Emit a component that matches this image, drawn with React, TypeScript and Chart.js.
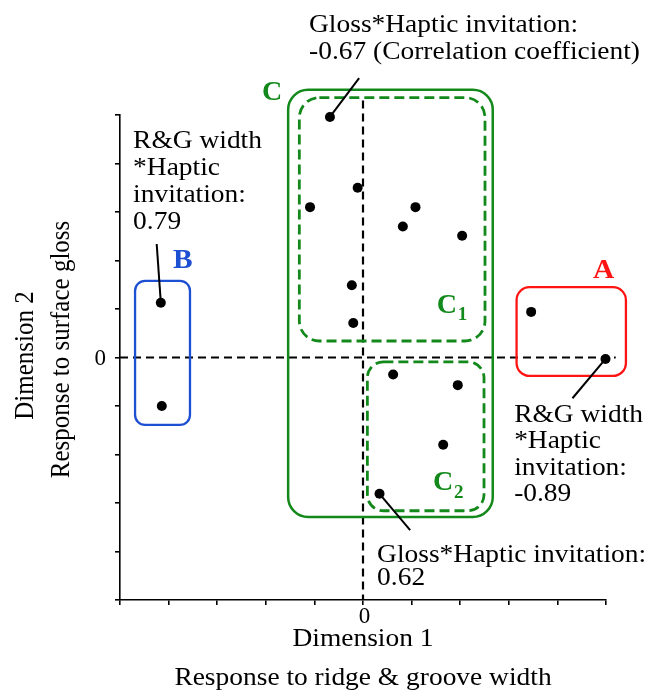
import React, { useEffect, useRef } from 'react';
import { Chart, registerables } from 'chart.js';

Chart.register(...registerables);

// Two-dimensional map of the samples (Dimension 1 vs Dimension 2)
const c1X = [-0.68, -0.11, -1.09, 1.08, 0.82, 2.04, -0.23, -0.2];
const c1Y = [4.96, 3.5, 3.1, 3.1, 2.7, 2.51, 1.49, 0.71];
const c2X = [0.62, 1.95, 1.65, 0.34];
const c2Y = [-0.35, -0.57, -1.8, -2.81];
const bX = [-4.16, -4.14];
const bY = [1.13, -1.0];
const aX = [3.46, 4.99];
const aY = [0.94, -0.03];

const axisMin = -5;
const axisMax = 5;
const zeroTickLabel = '0';

const xTitle = ['Dimension 1', 'Response to ridge & groove width'];
const yTitle = ['Dimension 2', 'Response to surface gloss'];

// Correlation notes
const noteTop = ['Gloss*Haptic invitation:', '-0.67 (Correlation coefficient)'];
const noteB = ['R&G width', '*Haptic', 'invitation:', '0.79'];
const noteA = ['R&G width', '*Haptic', 'invitation:', '-0.89'];
const noteBottom = ['Gloss*Haptic invitation:', '0.62'];

const GREEN = '#12891a';
const BLUE = '#1d4fd2';
const RED = '#ff1414';
const SERIF = '"Liberation Serif", "Times New Roman", serif';
const STRETCH = 1.12;

const toPts = (xs: number[], ys: number[]) => xs.map((x, i) => ({ x, y: ys[i] }));

// Group outlines in data units
const groupBoxes = [
  { x0: -1.54, x1: 2.67, y0: -3.29, y1: 5.52, color: GREEN, dashed: false, r: 20, w: 2.5 },
  { x0: -1.31, x1: 2.51, y0: 0.34, y1: 5.36, color: GREEN, dashed: true, r: 20, w: 2.8 },
  { x0: 0.09, x1: 2.49, y0: -3.16, y1: -0.09, color: GREEN, dashed: true, r: 16, w: 2.8 },
  { x0: -4.69, x1: -3.56, y0: -1.39, y1: 1.58, color: BLUE, dashed: false, r: 10, w: 2.3 },
  { x0: 3.16, x1: 5.41, y0: -0.38, y1: 1.45, color: RED, dashed: false, r: 13, w: 2.3 },
];

// Leader lines from a point to its note
const leaders = [
  { from: [c1X[0], c1Y[0]], to: [-0.08, 5.76] },
  { from: [bX[0], bY[0]], to: [-4.245, 2.34] },
  { from: [aX[1], aY[1]], to: [4.31, -0.84] },
  { from: [c2X[3], c2Y[3]], to: [0.97, -3.56] },
];

function roundRect(ctx: CanvasRenderingContext2D, x: number, y: number, w: number, h: number, r: number) {
  ctx.beginPath();
  ctx.moveTo(x + r, y);
  ctx.lineTo(x + w - r, y);
  ctx.arcTo(x + w, y, x + w, y + r, r);
  ctx.lineTo(x + w, y + h - r);
  ctx.arcTo(x + w, y + h, x + w - r, y + h, r);
  ctx.lineTo(x + r, y + h);
  ctx.arcTo(x, y + h, x, y + h - r, r);
  ctx.lineTo(x, y + r);
  ctx.arcTo(x, y, x + r, y, r);
  ctx.closePath();
}

function text(
  ctx: CanvasRenderingContext2D,
  s: string,
  x: number,
  y: number,
  font: string,
  color = '#000',
  align: CanvasTextAlign = 'left',
  rot = 0,
  stretch = STRETCH,
  baseline: CanvasTextBaseline = 'alphabetic'
) {
  ctx.save();
  ctx.translate(x, y);
  if (rot) {
    ctx.rotate(rot);
    ctx.scale(1, stretch);
  } else {
    ctx.scale(stretch, 1);
  }
  ctx.font = font;
  ctx.fillStyle = color;
  ctx.textAlign = align;
  ctx.textBaseline = baseline;
  ctx.fillText(s, 0, 0);
  ctx.restore();
}

const annotations = {
  id: 'groupAnnotations',
  beforeDatasetsDraw(chart: any) {
    const { ctx } = chart;
    const xs = chart.scales.x;
    const ys = chart.scales.y;
    const px = (v: number) => xs.getPixelForValue(v);
    const py = (v: number) => ys.getPixelForValue(v);

    ctx.save();
    // zero reference lines
    ctx.strokeStyle = '#000';
    ctx.lineWidth = 2.2;
    ctx.setLineDash([8, 5]);
    ctx.beginPath();
    ctx.moveTo(px(axisMin), py(0));
    ctx.lineTo(px(5.2), py(0));
    ctx.moveTo(px(0), py(5.3));
    ctx.lineTo(px(0), py(axisMin));
    ctx.stroke();

    // group outlines
    for (const b of groupBoxes) {
      ctx.strokeStyle = b.color;
      ctx.lineWidth = b.w;
      ctx.setLineDash(b.dashed ? [10, 5] : []);
      const x = px(b.x0);
      const y = py(b.y1);
      roundRect(ctx, x, y, px(b.x1) - x, py(b.y0) - y, b.r);
      ctx.stroke();
    }

    // leader lines
    ctx.setLineDash([]);
    ctx.strokeStyle = '#000';
    ctx.lineWidth = 2;
    for (const l of leaders) {
      ctx.beginPath();
      ctx.moveTo(px(l.from[0]), py(l.from[1]));
      ctx.lineTo(px(l.to[0]), py(l.to[1]));
      ctx.stroke();
    }
    ctx.restore();
  },
  afterDraw(chart: any) {
    const { ctx, chartArea } = chart;
    const xs = chart.scales.x;
    const ys = chart.scales.y;
    const px = (v: number) => xs.getPixelForValue(v);
    const py = (v: number) => ys.getPixelForValue(v);
    const f = `24.5px ${SERIF}`;
    const bold = `bold 28px ${SERIF}`;
    const sub = `bold 19px ${SERIF}`;
    const tickFont = `23px ${SERIF}`;

    // zero tick labels on both axes
    text(ctx, zeroTickLabel, chartArea.left - 14, py(0) + 1.5, tickFont, '#000', 'right', 0, 1.0, 'middle');
    text(ctx, zeroTickLabel, px(0) + 1.5, chartArea.bottom + 17, tickFont, '#000', 'center', 0, 1.0, 'middle');

    const block = (lines: string[], x: number, y: number, step: number) =>
      lines.forEach((s, i) => text(ctx, s, px(x), py(y) + i * step, f));

    block(noteTop, -1.11, 6.72, 27);
    block(noteB, -4.73, 4.31, 27);
    block(noteA, 3.11, -1.32, 26.5);
    block(noteBottom, 0.29, -4.21, 23);

    // group letters
    text(ctx, 'C', px(-2.08), py(5.31), bold, GREEN, 'left', 0, 1.0);
    text(ctx, 'B', px(-3.91), py(1.85), bold, BLUE, 'left', 0, 1.05);
    text(ctx, 'A', px(4.73), py(1.64), bold, RED, 'left', 0, 1.05);
    text(ctx, 'C', px(1.52), py(0.92), bold, GREEN, 'left', 0, 1.0);
    text(ctx, '1', px(1.95), py(0.77), sub, GREEN, 'left', 0, 1.0);
    text(ctx, 'C', px(1.44), py(-2.73), bold, GREEN, 'left', 0, 1.0);
    text(ctx, '2', px(1.87), py(-2.9), sub, GREEN, 'left', 0, 1.0);

    // axis titles
    const cx = (chartArea.left + chartArea.right) / 2;
    text(ctx, xTitle[0], cx, chartArea.bottom + 46, f, '#000', 'center');
    text(ctx, xTitle[1], cx, chartArea.bottom + 85, f, '#000', 'center');
    const cy = (chartArea.top + chartArea.bottom) / 2;
    text(ctx, yTitle[0], chartArea.left - 94, cy - 2, `25px ${SERIF}`, '#000', 'center', -Math.PI / 2, STRETCH, 'middle');
    text(ctx, yTitle[1], chartArea.left - 58, cy - 8, `25px ${SERIF}`, '#000', 'center', -Math.PI / 2, STRETCH, 'middle');
  },
};

export default function App() {
  const canvasRef = useRef<HTMLCanvasElement | null>(null);

  useEffect(() => {
    document.body.style.margin = '0';
    const canvas = canvasRef.current;
    if (!canvas) return;

    const dot = { pointRadius: 5, pointHoverRadius: 5, pointBackgroundColor: '#000', pointBorderWidth: 0, clip: false as any };

    const chart = new Chart(canvas, {
      type: 'scatter',
      data: {
        datasets: [
          { label: 'C1', data: toPts(c1X, c1Y), ...dot },
          { label: 'C2', data: toPts(c2X, c2Y), ...dot },
          { label: 'B', data: toPts(bX, bY), ...dot },
          { label: 'A', data: toPts(aX, aY), ...dot },
        ],
      },
      options: {
        animation: false,
        responsive: true,
        maintainAspectRatio: false,
        layout: { padding: { top: 115, right: 44, left: 0, bottom: 0 } },
        plugins: { legend: { display: false }, tooltip: { enabled: false } },
        events: [],
        scales: {
          x: {
            type: 'linear',
            min: axisMin,
            max: axisMax,
            afterFit: (s: any) => {
              s.height = 90;
            },
            border: { display: true, color: '#000', width: 1.6 },
            grid: { drawOnChartArea: false, drawTicks: true, tickLength: 5, color: '#000', lineWidth: 1.6 },
            ticks: { stepSize: 1, autoSkip: false, maxRotation: 0, callback: () => '' },
          },
          y: {
            type: 'linear',
            min: axisMin,
            max: axisMax,
            afterFit: (s: any) => {
              s.width = 120;
            },
            border: { display: true, color: '#000', width: 1.6 },
            grid: { drawOnChartArea: false, drawTicks: true, tickLength: 5, color: '#000', lineWidth: 1.6 },
            ticks: { stepSize: 1, autoSkip: false, callback: () => '' },
          },
        },
      },
      plugins: [annotations],
    });

    return () => chart.destroy();
  }, []);

  return (
    <div style={{ width: 650, height: 690, position: 'relative', background: '#fff' }}>
      <canvas ref={canvasRef} />
    </div>
  );
}
